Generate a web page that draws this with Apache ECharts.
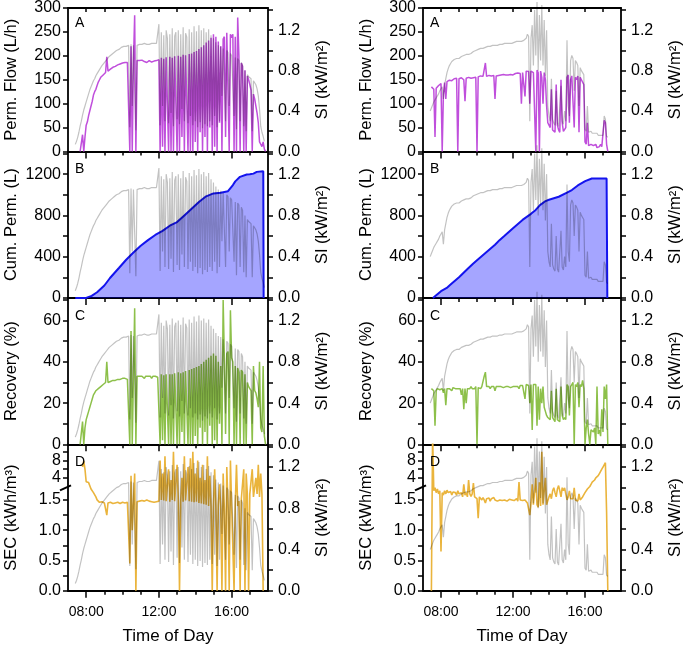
<!DOCTYPE html>
<html><head><meta charset="utf-8">
<script src="https://cdn.jsdelivr.net/npm/echarts@6/dist/echarts.min.js"></script>
<style>html,body{margin:0;padding:0;background:#fff}#c{width:685px;height:647px}</style>
</head><body><div id="c"></div>
<script>
// ---------- DATA (4-minute samples, start time given per series) ----------
const STEP_MIN = 4;

// Left day: solar irradiance (kW/m2)
const siLeftStart = "07:24";
const siLeft = [0.07,0.10,0.14,0.19,0.25,0.30,0.36,0.41,0.45,
0.49,0.53,0.57,0.61,0.64,0.67,0.70,0.72,0.75,0.77,0.79,0.81,0.83,0.85,0.86,
0.88,0.89,0.91,0.92,0.94,0.95,0.96,0.97,0.98,0.99,1.00,1.01,1.01,1.02,1.03,
1.03,1.04,1.05,1.04,1.05,1.05,0.24,1.06,0.45,1.05,1.06,0.21,1.05,1.06,1.06,
1.05,1.06,1.06,1.07,1.06,1.06,1.07,1.06,1.06,1.07,1.06,1.07,1.06,1.07,1.08,
1.26,0.26,1.18,0.45,1.15,0.30,1.20,1.12,0.28,1.16,0.38,1.22,0.25,1.14,1.18,
0.32,1.20,0.27,1.16,0.42,1.23,0.30,1.17,1.13,0.28,1.21,0.35,1.18,0.26,1.24,
0.30,1.19,0.24,1.25,0.29,1.20,0.23,1.22,0.27,1.18,0.25,1.21,0.30,1.15,0.26,
1.12,0.35,1.08,0.24,1.05,0.30,1.04,0.55,1.02,1.01,0.30,1.00,0.98,0.45,0.97,
0.95,0.94,0.35,0.93,0.22,0.92,0.90,0.30,0.88,0.85,0.25,0.80,0.20,0.76,0.74,
0.73,0.72,0.20,0.70,0.68,0.66,0.62,0.55,0.42,0.25,0.19,0.15,0.10];

// Left day: permeate flow (L/h)
const flowLeftStart = "07:40";
const flowLeft = [0,0,35,0,30,
55,62,75,85,95,105,118,125,130,138,145,150,155,158,160,
163,165,198,168,170,172,174,176,177,178,180,181,182,183,184,
185,185,186,187,186,186,0,220,0,188,285,0,190,188,190,
189,191,192,188,190,186,189,190,191,187,190,189,192,190,188,
192,0,196,10,194,0,197,195,0,198,0,196,0,199,197,
0,200,0,198,30,202,0,201,199,0,204,0,205,0,208,
20,210,0,214,40,218,0,222,30,228,0,232,50,238,0,
245,10,240,0,230,60,220,0,235,240,30,248,250,0,245,
238,245,0,240,0,280,200,0,185,178,0,170,0,158,150,
140,128,0,120,110,95,80,60,20,15,10,20,5,0];

// Left day: cumulative permeate (L)
const cumLeftTimes = [7.40,8.00,8.30,8.60,9.00,9.31,9.80,10.20,10.60,11.00,11.40,11.80,12.20,12.60,13.00,13.40,13.80,14.20,14.60,15.00,15.40,15.80,16.07,16.20,16.46,16.83,17.00,17.20,17.38,17.74,17.76];
const cumLeft = [0,0,20,55,120,193,290,370,440,505,560,610,650,700,735,800,865,930,985,1013,1020,1035,1094,1130,1174,1197,1198,1205,1222,1229,0];

// Left day: recovery (%)
const recLeftStart = "07:40";
const recLeft = [0,0,11,0,8,
12,14,16,18,20,22,24,25,26,26.5,27,27.5,28,28.5,29,
29.5,30,40,30,30.5,30.5,31,31,31.5,31,31.5,31.5,32,31.5,32,
32,31.5,32,32,31.5,31.5,0,55,0,33,66,0,33,32.5,33,
32.5,33,33,32,33,32.5,33,32.5,33,32,33,32.5,33,33,32.5,
33,0,34,2,33.5,0,34,33.5,0,34,0,34,0,34.5,34,
0,35,0,34.5,6,35,0,35.5,35,0,36,0,36.5,0,37,
4,37.5,0,38,8,39,0,40,6,41,0,42,9,43,0,
44,2,43,0,40,10,38,0,70,42,5,44,45,0,65,
42,40,0,38,0,37,35,0,36,35,0,34,0,30,28,
27,26,0,38,26,25,22,18,40,8,6,38,4,0];

// Left day: specific energy consumption (kWh/m3)
const secLeftStart = "07:48";
const secLeft = [6.5,7.9,6.0,
3.1,3.0,2.9,2.8,1.68,1.65,1.62,1.60,1.55,1.50,1.47,1.46,1.45,1.47,1.45,
1.45,1.46,1.25,1.45,1.44,1.46,1.45,1.44,1.46,1.45,1.44,1.46,1.45,1.44,1.45,
1.46,1.44,1.45,1.44,1.46,1.45,0.45,4.5,1.0,1.46,5.0,0,1.47,1.46,1.48,
1.47,1.49,1.46,1.48,1.47,1.50,1.47,1.48,1.49,1.47,1.48,1.46,1.49,1.47,1.48,
1.48,8.0,1.50,5.0,1.49,9.0,1.48,1.50,6.0,1.47,3.5,1.50,10.0,1.48,1.49,
7.0,1.50,0,1.48,4.0,1.47,9.0,1.49,1.50,6.5,1.48,8.5,1.47,10.0,1.46,
5.0,1.47,8.0,1.45,4.0,1.44,7.0,1.43,3.5,1.42,9.0,1.40,4.5,1.40,0,
1.38,6.0,1.40,0,1.42,2.5,1.38,0,5.0,1.35,0,6.5,1.40,0,8.0,
1.40,1.42,0,1.45,7.0,1.40,1.48,0,1.52,1.55,6.0,0,5.0,1.58,0,
1.60,1.62,6.0,1.55,1.58,4.0,1.60,7.0,1.55,5.0,1.60,0];

// Right day: solar irradiance (kW/m2)
const siRightStart = "07:24";
const siRight = [0.40,0.43,0.46,0.49,0.51,0.53,0.55,0.57,0.60,
0.62,0.64,0.52,0.66,0.72,0.78,0.82,0.85,0.87,0.89,0.90,0.91,0.90,0.92,0.93,
0.92,0.93,0.94,0.93,0.95,0.95,0.96,0.95,0.96,0.97,0.97,0.98,0.99,0.99,1.00,
1.00,1.01,1.01,1.02,1.02,1.02,1.03,1.03,1.03,1.04,1.04,1.04,1.04,1.05,1.05,
1.05,1.05,1.05,1.06,1.06,1.06,1.06,1.06,1.07,1.06,1.07,1.07,1.07,1.07,1.07,
1.08,1.08,1.08,1.09,1.08,1.09,1.09,1.09,1.10,1.10,1.11,1.12,1.16,1.14,0.30,
1.12,1.25,0.85,1.40,0.95,1.48,0.80,1.35,0.90,1.45,0.85,1.30,0.75,1.20,0.45,
0.35,0.30,0.72,0.32,0.28,0.26,0.60,0.28,0.25,0.24,0.65,0.30,0.27,0.40,0.30,
1.10,0.45,0.35,0.90,0.95,0.92,0.60,0.90,0.88,0.85,0.45,0.83,0.80,0.78,0.76,
0.22,0.20,0.45,0.19,0.18,0.20,0.18,0.17,0.18,0.17,0.18,0.16,0.17,0.16,0.15,0.16,0.35,0.32,0.15,0.14];

// Right day: permeate flow (L/h)
const flowRightStart = "07:28";
const flowRight = [135,138,130,30,132,136,138,140,
142,0,120,144,110,146,148,149,150,148,151,152,150,153,0,
152,153,154,152,150,105,153,154,155,155,153,156,154,157,155,
0,156,157,158,156,157,158,185,157,158,159,157,158,155,159,
110,158,160,159,158,160,159,161,158,160,162,160,159,161,162,
160,162,163,161,164,165,163,100,165,166,115,168,170,167,100,
168,170,165,168,0,170,165,0,168,155,100,165,150,95,60,
55,50,130,45,42,40,140,55,45,40,150,60,42,38,50,
155,160,60,150,158,160,50,155,150,158,40,155,150,145,140,
20,15,60,12,10,15,12,12,10,15,8,12,10,15,10,12,65,60,15,0];

// Right day: cumulative permeate (L)
const cumRightTimes = [7.55,8.00,8.32,8.50,9.00,9.50,9.78,10.00,10.50,11.00,11.25,11.50,12.00,12.53,13.00,13.26,13.50,13.81,14.00,14.54,15.00,15.27,15.60,16.01,16.38,16.80,17.20,17.24];
const cumRight = [0,65,97,125,200,285,331,365,440,515,560,598,675,756,815,853,900,939,952,981,1020,1046,1090,1132,1158,1158,1158,0];

// Right day: recovery (%)
const recRightStart = "07:28";
const recRight = [27,27.5,26,9,26,27,27,26.5,
27,27,25,27,19,27,27.5,27,27,26,27.5,27,27,27.5,27,
27,27,24,27,17,27,20,27,27.5,27,28,27,27.5,27,28,
0,27.5,28,27,28,27.5,33,35,28,27.5,28,27,28,27.5,28,
26,28,27.5,28,27.5,28,28,27.5,28,28,27.5,28,28,27.5,28,
28,28.5,28,28.5,28,27,28.5,29,28.5,29,22,29,29,28.5,20,
29,7,29,28.5,29,9,28,12,27,20,28,18,16,14,13,
12.5,12,26,13,12,11,27,12,11.5,11,28,14,12,13,12,
29,28,14,28,29,30,0,29,28,30,18,29,28,31,27,
0,8,12,5,0,7,7,6,8,0,28,5,7,4,17,6,28,22,29,0];

// Right day: specific energy consumption (kWh/m3)
const secRightStart = "07:28";
const secRight = [0,14,1.65,1.70,1.62,1.68,1.60,1.65,
0.65,1.62,1.58,1.65,1.60,1.66,1.62,1.60,1.64,1.58,1.63,1.60,1.62,1.58,1.65,
1.60,1.58,1.62,1.55,2.5,1.58,1.62,1.55,3.5,1.60,1.56,1.60,2.8,1.55,1.58,
1.52,1.20,1.55,1.52,1.50,1.54,1.50,1.45,1.52,1.50,1.53,1.48,1.52,1.50,1.54,
1.50,1.52,1.48,1.51,1.50,1.53,1.49,1.51,1.50,1.52,1.48,1.50,1.51,1.49,1.50,
1.51,1.49,1.50,1.52,1.48,3.0,1.50,1.47,1.49,1.48,1.50,1.47,1.45,1.48,1.25,
1.45,2.5,1.42,1.40,4.0,1.42,1.38,3.0,1.40,10.0,1.42,1.40,4.0,1.42,1.45,
1.55,1.60,1.52,1.65,1.70,1.62,1.55,1.68,2.2,1.65,1.55,1.72,1.65,1.70,1.60,
1.50,1.55,1.65,1.52,1.50,1.52,1.70,1.50,1.52,1.48,1.60,1.50,1.52,1.55,1.58,
1.62,1.60,1.68,1.75,2.0,2.5,3.0,3.2,3.5,4.0,4.2,4.5,5.0,5.5,6.0,6.5,7.0,7.5,1.3,0];

// Tick / label values
const hourTicks = [8,9,10,11,12,13,14,15,16,17];
const hourLabels = [8,12,16];
const siTicks = [0,0.2,0.4,0.6,0.8,1.0,1.2,1.4];
const siLabels = [0,0.4,0.8,1.2];
const flowTicks = [0,50,100,150,200,250,300];
const cumTicks = [0,200,400,600,800,1000,1200,1400];
const cumLabels = [0,400,800,1200];
const recTicks = [0,10,20,30,40,50,60,70];
const recLabels = [0,20,40,60];
const secTicks = [0,0.25,0.5,0.75,1.0,1.25,1.5,4,6,8,10];
const secLabels = [0,0.5,1.0,1.5,4,8];

// ---------- helpers ----------
const SEC_BREAK = 1.7, SEC_UPPER = 0.0714;
const secPos = v => v <= SEC_BREAK ? v : SEC_BREAK + (v - SEC_BREAK) * SEC_UPPER;
const SI_MAX = 1.42;
const SEC_MAX = 2.417;
function hm(s){const p=s.split(':');return +p[0]+(+p[1])/60;}
function build(start, vals, tf){const t0=hm(start);return vals.map((v,k)=>[t0+k*STEP_MIN/60, v==null?null:(tf?tf(v):v)]);}
function pairs(ts, vals){return ts.map((t,k)=>[t, vals[k]]);}
const near=(a,b)=>Math.abs(a-b)<1e-6;

const FONT = 'Liberation Sans, Arial, sans-serif';
const BLACK = '#000';
const GRID_W = 200, TOP0 = 5, PANEL_H = 146.45;
const colLefts = [68, 423];

const cols = [
  {si: build(siLeftStart, siLeft), flow: build(flowLeftStart, flowLeft), cum: pairs(cumLeftTimes, cumLeft),
   rec: build(recLeftStart, recLeft), sec: build(secLeftStart, secLeft, secPos)},
  {si: build(siRightStart, siRight), flow: build(flowRightStart, flowRight), cum: pairs(cumRightTimes, cumRight),
   rec: build(recRightStart, recRight), sec: build(secRightStart, secRight, secPos)}
];

const rows = [
  {letter:'A', name:'Perm. Flow (L/h)', max:300, ticks:flowTicks, labels:flowTicks, fmt:v=>String(v)},
  {letter:'B', name:'Cum. Perm. (L)', max:1420, ticks:cumTicks, labels:cumLabels, fmt:v=>String(v)},
  {letter:'C', name:'Recovery (%)', max:71, ticks:recTicks, labels:recLabels, fmt:v=>String(v)},
  {letter:'D', name:'SEC (kWh/m\u00B3)', max:SEC_MAX, ticks:secTicks.map(secPos), labels:secLabels.map(secPos),
    fmt:v=>{const s=secLabels.find(x=>near(secPos(x),v));return s==null?'':(s<2?s.toFixed(1):String(s));}}
];

const grid=[], xAxis=[], yAxis=[], series=[], graphic=[];
const axLine = {show:true,onZero:false,lineStyle:{color:BLACK,width:1.8}};
const tickStyle = {color:BLACK,width:1.5};

colLefts.forEach((left, ci)=>{
  const c = cols[ci];
  rows.forEach((row, r)=>{
    const g = grid.length;
    const top = TOP0 + r*PANEL_H;
    grid.push({left:left, top:top, width:GRID_W, height:PANEL_H});
    const xi = xAxis.length;
    xAxis.push({gridIndex:g, type:'value', min:7, max:18, position:'bottom',
      axisLine:axLine,
      axisTick:{show:true,inside:false,length:4,lineStyle:tickStyle,customValues:hourTicks},
      axisLabel:{show:r===3,customValues:hourLabels,formatter:v=>(v<10?'0':'')+v+':00',fontSize:14,color:BLACK,margin:14,fontFamily:FONT},
      splitLine:{show:false},
      name: r===3?'Time of Day':'', nameLocation:'middle', nameGap:37,
      nameTextStyle:{fontSize:17,color:BLACK,fontFamily:FONT}});
    xAxis.push({gridIndex:g, type:'value', min:7, max:18, position:'bottom',
      axisLine:{show:false,onZero:false},
      axisTick:{show:true,inside:false,length:7,lineStyle:tickStyle,customValues:hourLabels},
      axisLabel:{show:false}, splitLine:{show:false}});
    if(r===0){
      xAxis.push({gridIndex:g, type:'value', min:7, max:18, position:'top',
        axisLine:axLine,
        axisTick:{show:true,inside:true,length:4,lineStyle:tickStyle,customValues:hourTicks},
        axisLabel:{show:false}, splitLine:{show:false}});
    }
    const yl = yAxis.length;
    yAxis.push({gridIndex:g, type:'value', min:0, max:row.max, position:'left',
      axisLine:axLine,
      axisTick:{show:true,inside:false,length:5,lineStyle:tickStyle,customValues:row.ticks},
      axisLabel:{show:true,customValues:row.labels,formatter:row.fmt,fontSize:16,color:BLACK,margin:7,fontFamily:FONT},
      splitLine:{show:false},
      name:row.name, nameLocation:'middle', nameGap:48, nameRotate:90,
      nameTextStyle:{fontSize:16.5,color:BLACK,fontFamily:FONT}});
    const yr = yAxis.length;
    yAxis.push({gridIndex:g, type:'value', min:0, max:SI_MAX, position:'right',
      axisLine:axLine,
      axisTick:{show:true,inside:false,length:5,lineStyle:tickStyle,customValues:siTicks},
      axisLabel:{show:true,customValues:siLabels,formatter:v=>v.toFixed(1),fontSize:16,color:BLACK,margin:10,fontFamily:FONT},
      splitLine:{show:false},
      name:'SI (kW/m\u00B2)', nameLocation:'middle', nameGap:46, nameRotate:90,
      nameTextStyle:{fontSize:16.5,color:BLACK,fontFamily:FONT}});

    let s;
    if(r===0) s={type:'line', data:c.flow, lineStyle:{color:'#c04fdc',width:1.5}};
    if(r===1) s={type:'line', data:c.cum, lineStyle:{color:'#1414ee',width:2},
                 areaStyle:{color:'rgba(0,0,255,0.5)',origin:'start'}};
    if(r===2) s={type:'line', data:c.rec, lineStyle:{color:'#8dc04a',width:1.5}};
    if(r===3) s={type:'line', data:c.sec, lineStyle:{color:'#eab43c',width:1.6}};
    Object.assign(s,{xAxisIndex:xi,yAxisIndex:yl,showSymbol:false,symbol:'none',z:2,silent:true,connectNulls:false});
    series.push(s);
    series.push({type:'line', data:c.si, xAxisIndex:xi, yAxisIndex:yr, showSymbol:false, symbol:'none',
      lineStyle:{color:'rgba(0,0,0,0.24)',width:1.2}, z:3, silent:true, clip:false});

    graphic.push({type:'text', left:left+7, top:top+11, style:{text:row.letter, fill:BLACK, font:'14px '+FONT}, z:100});
    if(r===3){
      const yb = top + PANEL_H - secPos(SEC_BREAK)/SEC_MAX*PANEL_H;
      graphic.push({type:'line', shape:{x1:left-8,y1:yb+2.5,x2:left+3,y2:yb-2.5}, style:{stroke:BLACK,lineWidth:2}, z:100});
    }
  });
});

const chart = echarts.init(document.getElementById('c'), null, {renderer:'canvas'});
chart.setOption({animation:false, backgroundColor:'#fff', grid, xAxis, yAxis, series, graphic});
</script></body></html>
